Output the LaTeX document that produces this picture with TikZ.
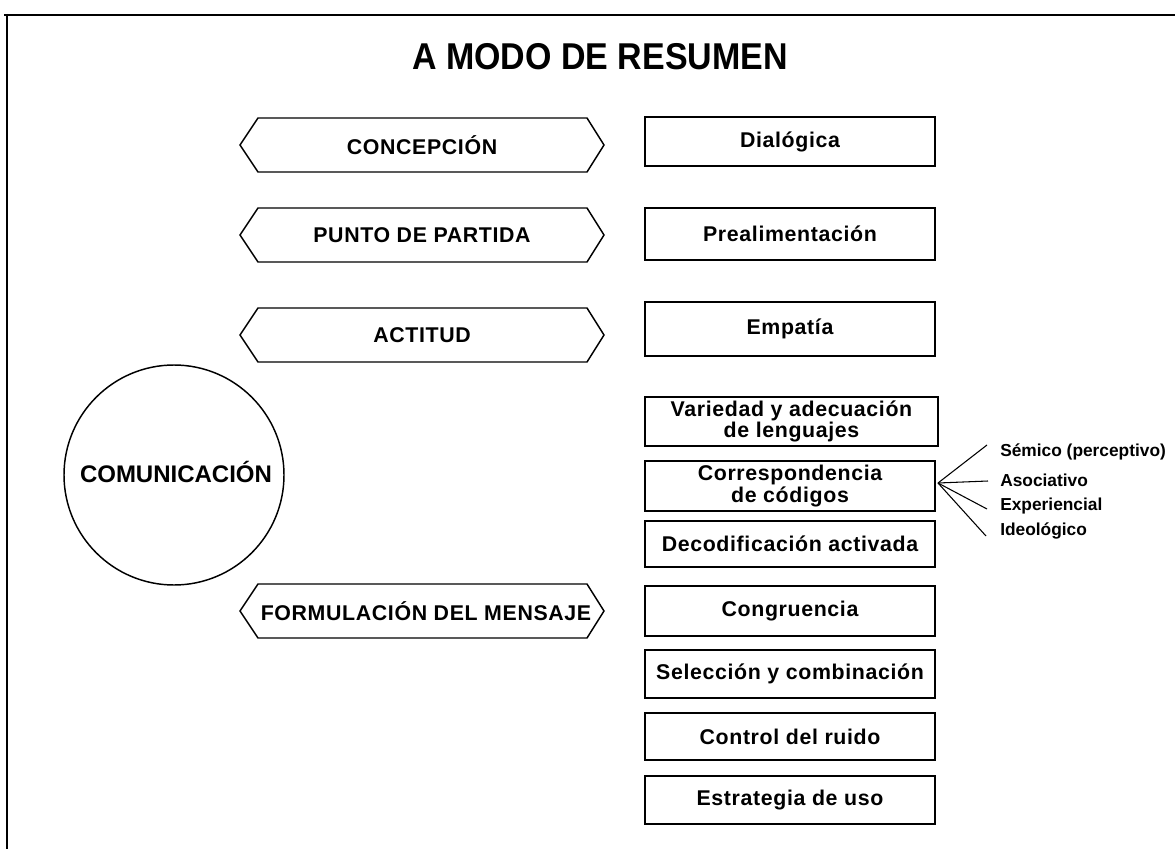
\documentclass[tikz,border=0pt]{standalone}
\usepackage{fontspec}
\setmainfont{Liberation Sans}
\usetikzlibrary{calc}
\begin{document}
\begin{tikzpicture}[x=0.75pt,y=-0.75pt,
  box/.style={draw, line width=1.5pt, minimum width={290*0.75pt}, inner sep=0pt,
    font=\fontsize{16}{16}\selectfont\bfseries\addfontfeature{LetterSpace=3}, align=center},
  hexline/.style={line width=1.1pt, line join=miter},
  hextext/.style={font=\fontsize{16}{18}\selectfont\bfseries\addfontfeature{LetterSpace=3}, inner sep=0pt},
  lab/.style={anchor=west, font=\fontsize{13}{14}\selectfont\bfseries, inner sep=0pt},
  fanline/.style={line width=0.8pt}]
\useasboundingbox (0,0) rectangle (1175,849);
% frame
\draw[line width=2pt] (4,15) -- (1175,15);
\draw[line width=2.2pt] (7,14) -- (7,849);
% title
\node[inner sep=0pt] (title) at (600,57) {\scalebox{0.91}[1]{\fontsize{28}{30}\selectfont\bfseries A MODO DE RESUMEN}};
% hexagons
\node[hextext] (h1) at (422,145) {CONCEPCIÓN};
\draw[hexline] (240,145) -- (258,118) -- (587,118) -- (604,145) -- (587,172) -- (258,172) -- cycle;
\node[hextext] (h2) at (422,235) {PUNTO DE PARTIDA};
\draw[hexline] (240,235) -- (258,208) -- (587,208) -- (604,235) -- (587,262) -- (258,262) -- cycle;
\node[hextext] (h3) at (422,335) {ACTITUD};
\draw[hexline] (240,335) -- (258,308) -- (587,308) -- (604,335) -- (587,362) -- (258,362) -- cycle;
\node[hextext] (h4) at (426,611) {FORMULACIÓN DEL MENSAJE};
\draw[hexline] (240,611) -- (258,584) -- (587,584) -- (604,611) -- (587,638) -- (258,638) -- cycle;
% circle
\node[draw, circle, line width=1.1pt, minimum size={220*0.75pt}, inner sep=0pt] (com) at (174,475) {};
\node[font=\fontsize{18}{20}\selectfont\bfseries, inner sep=0pt] (comtext) at (176,472) {COMUNICACIÓN};
% boxes
\node[box, minimum height={49*0.75pt}] (b1) at (790,141.5) {Dialógica};
\node[box, minimum height={52*0.75pt}] (b2) at (790,234) {Prealimentación};
\node[box, minimum height={54*0.75pt}] (b3) at (790,329) {Empatía};
\node[box, minimum height={49*0.75pt}, minimum width={293*0.75pt}] (b4) at (791.5,421.5) {Variedad y adecuación\\de lenguajes};
\node[box, minimum height={50*0.75pt}] (b5) at (790,486) {Correspondencia\\de códigos};
\node[box, minimum height={46*0.75pt}] (b6) at (790,544) {Decodificación activada};
\node[box, minimum height={50*0.75pt}] (b7) at (790,611) {Congruencia};
\node[box, minimum height={48*0.75pt}] (b8) at (790,674) {Selección y combinación};
\node[box, minimum height={47*0.75pt}] (b9) at (790,736.5) {Control del ruido};
\node[box, minimum height={48*0.75pt}] (b10) at (790,800) {Estrategia de uso};
% fan
\coordinate (fan) at (938,483);
\node[lab] (s1) at (1000,452) {Sémico (perceptivo)};
\node[lab] (s2) at (1000,480) {Asociativo};
\node[lab] (s3) at (1000,506) {Experiencial};
\node[lab] (s4) at (1000,531) {Ideológico};
\draw[fanline] (fan) -- ($(s1.west)+(-13,-7)$);
\draw[fanline] (fan) -- ($(s2.west)+(-12,1)$);
\draw[fanline] (fan) -- ($(s3.west)+(-13,3)$);
\draw[fanline] (fan) -- ($(s4.west)+(-14,5)$);
\end{tikzpicture}
\end{document}
